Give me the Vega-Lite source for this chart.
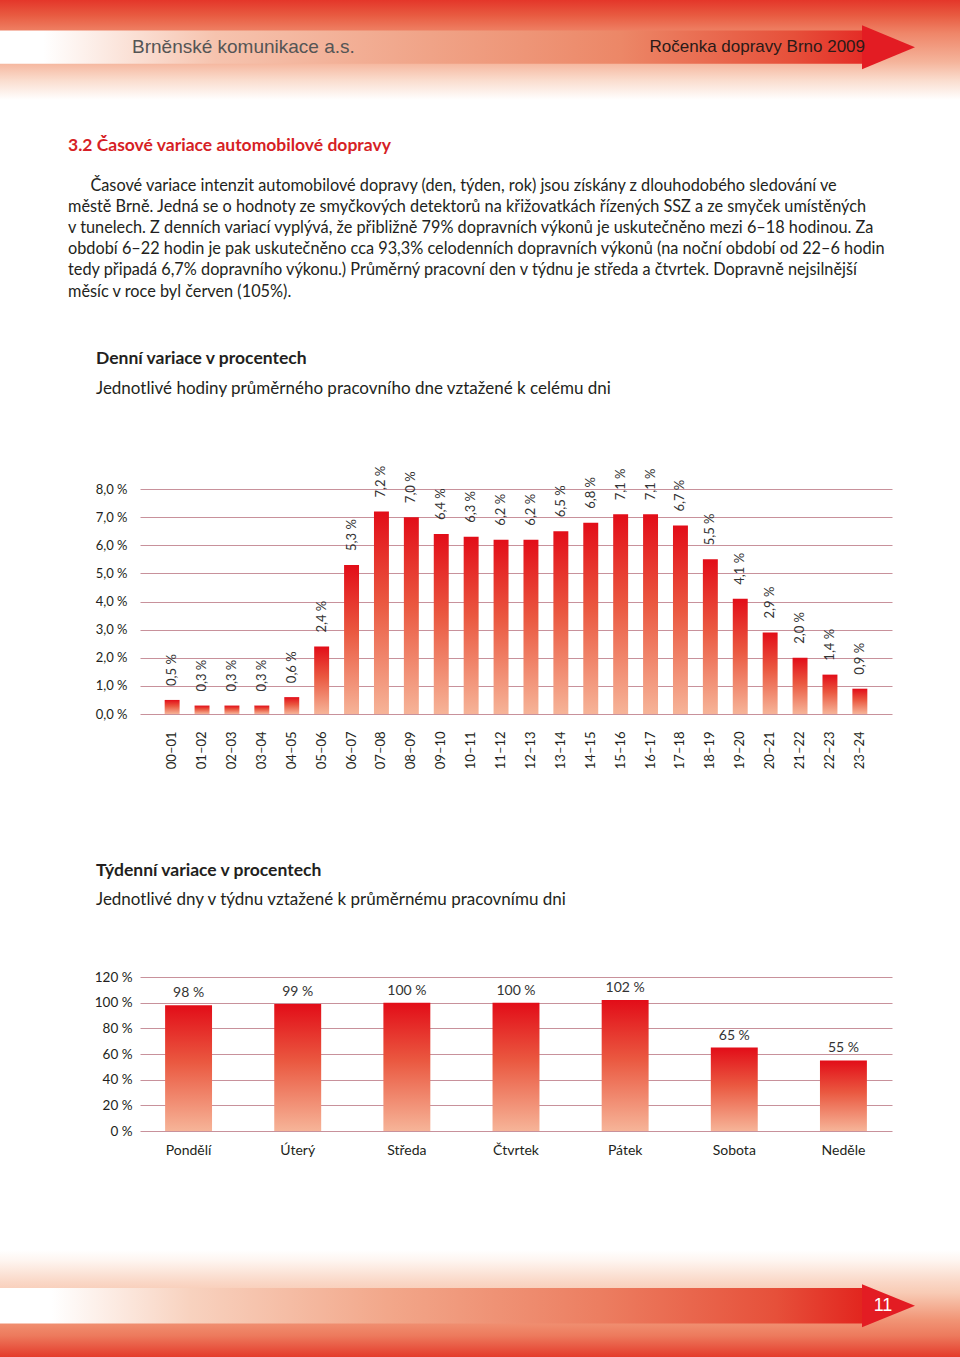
{
  "$schema": "https://vega.github.io/schema/vega-lite/v6.json",
  "padding": 0,
  "background": "white",
  "spacing": 50,
  "config": {
    "font": "Lato",
    "view": {"stroke": null},
    "axis": {"domain": false, "ticks": false, "labelFont": "Lato", "labelColor": "#231f20", "labelFontSize": 13, "gridColor": "#c8919b", "gridWidth": 1, "gridOpacity": 1},
    "axisX": {"grid": false}
  },
  "datasets": {
    "hourly": [
      {"hour": "00–01", "share": 0.5}, {"hour": "01–02", "share": 0.3}, {"hour": "02–03", "share": 0.3},
      {"hour": "03–04", "share": 0.3}, {"hour": "04–05", "share": 0.6}, {"hour": "05–06", "share": 2.4},
      {"hour": "06–07", "share": 5.3}, {"hour": "07–08", "share": 7.2}, {"hour": "08–09", "share": 7.0},
      {"hour": "09–10", "share": 6.4}, {"hour": "10–11", "share": 6.3}, {"hour": "11–12", "share": 6.2},
      {"hour": "12–13", "share": 6.2}, {"hour": "13–14", "share": 6.5}, {"hour": "14–15", "share": 6.8},
      {"hour": "15–16", "share": 7.1}, {"hour": "16–17", "share": 7.1}, {"hour": "17–18", "share": 6.7},
      {"hour": "18–19", "share": 5.5}, {"hour": "19–20", "share": 4.1}, {"hour": "20–21", "share": 2.9},
      {"hour": "21–22", "share": 2.0}, {"hour": "22–23", "share": 1.4}, {"hour": "23–24", "share": 0.9}
    ],
    "weekly": [
      {"day": "Pondělí", "share": 98}, {"day": "Úterý", "share": 99}, {"day": "Středa", "share": 100},
      {"day": "Čtvrtek", "share": 100}, {"day": "Pátek", "share": 102}, {"day": "Sobota", "share": 65},
      {"day": "Neděle", "share": 55}
    ]
  },
  "vconcat": [
    {
      "width": 960,
      "height": 100,
      "data": {"values": [{"part": "band"}]},
      "title": {
        "text": "3.2 Časové variace automobilové dopravy",
        "subtitle": [
          "\u200b\u2003\u2002\u2009Časové variace intenzit automobilové dopravy (den, týden, rok) jsou získány z dlouhodobého sledování ve",
          "městě Brně. Jedná se o hodnoty ze smyčkových detektorů na křižovatkách řízených SSZ a ze smyček umístěných",
          "v tunelech. Z denních variací vyplývá, že přibližně 79% dopravních výkonů je uskutečněno mezi 6–18 hodinou. Za",
          "období 6–22 hodin je pak uskutečněno cca 93,3% celodenních dopravních výkonů (na noční období od 22–6 hodin",
          "tedy připadá 6,7% dopravního výkonu.) Průměrný pracovní den v týdnu je středa a čtvrtek. Dopravně nejsilnější",
          "měsíc v roce byl červen (105%)."
        ],
        "orient": "bottom", "anchor": "start", "frame": "group", "dx": 68, "offset": 37,
        "font": "Lato", "fontSize": 17.5, "fontWeight": "bold", "color": "#d61f26",
        "subtitleFont": "Lato", "subtitleFontSize": 16.3, "subtitleColor": "#231f20",
        "subtitleLineHeight": 21.2, "subtitlePadding": 23
      },
      "layer": [
        {
          "mark": {"type": "rect", "fill": {"gradient": "linear", "x1": 0, "y1": 0, "x2": 0, "y2": 1, "stops": [
            {"offset": 0, "color": "#e4362a"}, {"offset": 0.15, "color": "#e85a40"}, {"offset": 0.33, "color": "#ef8568"},
            {"offset": 0.62, "color": "#f5b49b"}, {"offset": 0.8, "color": "#fadccd"}, {"offset": 1, "color": "#ffffff"}]}},
          "encoding": {}
        },
        {
          "mark": {"type": "rect", "fill": {"gradient": "linear", "x1": 0, "y1": 0, "x2": 1, "y2": 0, "stops": [
            {"offset": 0, "color": "#ffffff"}, {"offset": 0.05, "color": "#ffffff"}, {"offset": 0.25, "color": "#f6c3ae"},
            {"offset": 0.5, "color": "#f0a387"}, {"offset": 0.72, "color": "#ec8767"}, {"offset": 0.92, "color": "#e6503a"},
            {"offset": 1, "color": "#e42d27"}]}},
          "encoding": {
            "x": {"field": "part", "type": "nominal", "axis": null, "scale": {"paddingInner": 0, "paddingOuter": 0.05684, "align": 0}},
            "y": {"field": "part", "type": "nominal", "axis": null, "scale": {"paddingInner": 0, "paddingOuter": 1.2857, "align": 0.458}}
          }
        },
        {
          "mark": {"type": "point", "shape": "M 0 -0.83 L 2 0 L 0 0.83 Z", "size": 2809, "filled": true, "color": "#e31c23", "opacity": 1, "strokeWidth": 0},
          "encoding": {
            "x": {"field": "part", "type": "nominal", "axis": null, "bandPosition": 1},
            "y": {"field": "part", "type": "nominal", "axis": null, "bandPosition": 0.5}
          }
        },
        {
          "mark": {"type": "text", "text": "Brněnské komunikace a.s.", "align": "left", "baseline": "middle", "dx": 132, "font": "Liberation Sans", "fontSize": 19, "color": "#555555"},
          "encoding": {
            "x": {"field": "part", "type": "nominal", "axis": null, "bandPosition": 0},
            "y": {"field": "part", "type": "nominal", "axis": null, "bandPosition": 0.5}
          }
        },
        {
          "mark": {"type": "text", "text": "Ročenka dopravy Brno 2009", "align": "right", "baseline": "middle", "dx": 3, "font": "Liberation Sans", "fontSize": 17, "color": "#2b1a18"},
          "encoding": {
            "x": {"field": "part", "type": "nominal", "axis": null, "bandPosition": 1},
            "y": {"field": "part", "type": "nominal", "axis": null, "bandPosition": 0.5}
          }
        }
      ]
    },
    {
      "hconcat": [
        {"width": 140, "height": 10, "data": {"values": [{}]}, "mark": {"type": "rect", "opacity": 0}, "encoding": {}},
        {
          "width": 752,
          "height": 225,
          "data": {"name": "hourly"},
          "transform": [{"calculate": "replace(format(datum.share, '.1f'), '.', ',') + ' %'", "as": "label"}],
          "title": {
            "text": "Denní variace v procentech",
            "subtitle": "Jednotlivé hodiny průměrného pracovního dne vztažené k celému dni",
            "anchor": "start", "frame": "group", "dx": -44, "offset": 69,
            "font": "Lato", "fontSize": 17.5, "fontWeight": "bold", "color": "#231f20",
            "subtitleFont": "Lato", "subtitleFontSize": 17, "subtitleColor": "#231f20", "subtitlePadding": 13
          },
          "encoding": {
            "x": {"field": "hour", "type": "nominal", "sort": null, "scale": {"paddingInner": 0.5, "paddingOuter": 0.825},
              "axis": {"title": null, "labelAngle": -90, "labelPadding": 17, "labelFontSize": 13, "minExtent": 97}},
            "y": {"field": "share", "type": "quantitative", "scale": {"domain": [0, 8], "nice": false},
              "axis": {"title": null, "values": [0, 1, 2, 3, 4, 5, 6, 7, 8], "grid": true, "labelPadding": 13, "minExtent": 140,
                "labelExpr": "replace(format(datum.value, '.1f'), '.', ',') + ' %'"}}
          },
          "layer": [
            {"mark": {"type": "bar", "fill": {"gradient": "linear", "x1": 0, "y1": 0, "x2": 0, "y2": 1, "stops": [
              {"offset": 0, "color": "#e20d18"}, {"offset": 0.45, "color": "#ea5840"}, {"offset": 1, "color": "#f6b498"}]}}},
            {"mark": {"type": "text", "angle": 270, "align": "left", "baseline": "middle", "dx": 14, "fontSize": 13, "color": "#333333"},
              "encoding": {"text": {"field": "label"}}}
          ]
        }
      ],
      "spacing": 0,
      "bounds": "flush"
    },
    {
      "hconcat": [
        {"width": 140, "height": 10, "data": {"values": [{}]}, "mark": {"type": "rect", "opacity": 0}, "encoding": {}},
        {
          "width": 752,
          "height": 154,
          "data": {"name": "weekly"},
          "transform": [{"calculate": "format(datum.share, 'd') + ' %'", "as": "label"}],
          "title": {
            "text": "Týdenní variace v procentech",
            "subtitle": "Jednotlivé dny v týdnu vztažené k průměrnému pracovnímu dni",
            "anchor": "start", "frame": "group", "dx": -44, "offset": 62,
            "font": "Lato", "fontSize": 17.5, "fontWeight": "bold", "color": "#231f20",
            "subtitleFont": "Lato", "subtitleFontSize": 17, "subtitleColor": "#231f20", "subtitlePadding": 13
          },
          "encoding": {
            "x": {"field": "day", "type": "nominal", "sort": null, "scale": {"paddingInner": 0.57, "paddingOuter": 0.23},
              "axis": {"title": null, "labelAngle": 0, "labelPadding": 12, "labelFontSize": 14, "minExtent": 69}},
            "y": {"field": "share", "type": "quantitative", "scale": {"domain": [0, 120], "nice": false},
              "axis": {"title": null, "values": [0, 20, 40, 60, 80, 100, 120], "grid": true, "labelPadding": 8, "minExtent": 140, "labelFontSize": 13.5,
                "labelExpr": "format(datum.value, 'd') + ' %'"}}
          },
          "layer": [
            {"mark": {"type": "bar", "fill": {"gradient": "linear", "x1": 0, "y1": 0, "x2": 0, "y2": 1, "stops": [
              {"offset": 0, "color": "#e20d18"}, {"offset": 0.45, "color": "#ea5840"}, {"offset": 1, "color": "#f6b498"}]}}},
            {"mark": {"type": "text", "baseline": "bottom", "dy": -5, "fontSize": 14, "color": "#333333"},
              "encoding": {"text": {"field": "label"}}}
          ]
        }
      ],
      "spacing": 0,
      "bounds": "flush"
    },
    {
      "width": 960,
      "height": 107,
      "data": {"values": [{"part": "band"}]},
      "layer": [
        {
          "mark": {"type": "rect", "fill": {"gradient": "linear", "x1": 0, "y1": 0, "x2": 0, "y2": 1, "stops": [
            {"offset": 0, "color": "#ffffff"}, {"offset": 0.1, "color": "#fef5f0"}, {"offset": 0.3, "color": "#fad7c6"},
            {"offset": 0.4, "color": "#f8cbb5"}, {"offset": 0.65, "color": "#f19576"}, {"offset": 0.8, "color": "#ed7a5d"},
            {"offset": 1, "color": "#e43b2b"}]}},
          "encoding": {}
        },
        {
          "mark": {"type": "rect", "fill": {"gradient": "linear", "x1": 0, "y1": 0, "x2": 1, "y2": 0, "stops": [
            {"offset": 0, "color": "#ffffff"}, {"offset": 0.06, "color": "#ffffff"}, {"offset": 0.22, "color": "#f8d2bf"},
            {"offset": 0.45, "color": "#f2a78a"}, {"offset": 0.7, "color": "#ec7d60"}, {"offset": 0.9, "color": "#e6503a"},
            {"offset": 1, "color": "#e2261f"}]}},
          "encoding": {
            "x": {"field": "part", "type": "nominal", "axis": null, "scale": {"paddingInner": 0, "paddingOuter": 0.05684, "align": 0}},
            "y": {"field": "part", "type": "nominal", "axis": null, "scale": {"paddingInner": 0, "paddingOuter": 1.5577, "align": 0.531}}
          }
        },
        {
          "mark": {"type": "point", "shape": "M 0 -0.81 L 2 0 L 0 0.81 Z", "size": 2809, "filled": true, "color": "#e31c23", "opacity": 1, "strokeWidth": 0},
          "encoding": {
            "x": {"field": "part", "type": "nominal", "axis": null, "bandPosition": 1},
            "y": {"field": "part", "type": "nominal", "axis": null, "bandPosition": 0.5}
          }
        },
        {
          "mark": {"type": "text", "text": "11", "align": "center", "baseline": "middle", "dx": 21, "font": "Liberation Sans", "fontSize": 18, "color": "#ffffff"},
          "encoding": {
            "x": {"field": "part", "type": "nominal", "axis": null, "bandPosition": 1},
            "y": {"field": "part", "type": "nominal", "axis": null, "bandPosition": 0.5}
          }
        }
      ]
    }
  ]
}
